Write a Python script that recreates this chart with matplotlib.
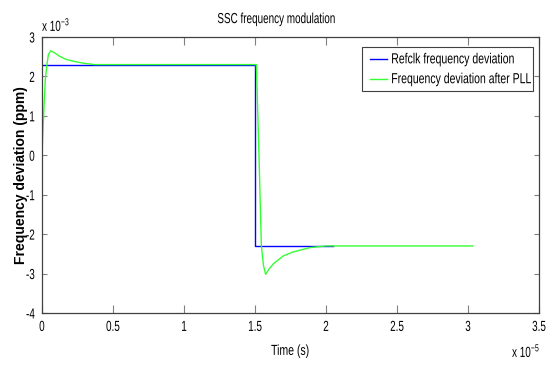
import matplotlib
matplotlib.use("Agg")
import matplotlib.pyplot as plt
from matplotlib.patheffects import AbstractPathEffect
from matplotlib.transforms import Affine2D, Bbox
from matplotlib.patches import Rectangle

plt.rcParams['font.family'] = ['Liberation Sans', 'DejaVu Sans']
plt.rcParams['axes.unicode_minus'] = False

# time in units of 1e-5 s, deviation in units of 1e-3 ppm
ref_t = [0, 1.5, 1.5, 2.05]
ref_dev = [2.3, 2.3, -2.3, -2.3]

pll_t = [0, 0.01, 0.023, 0.035, 0.045, 0.061, 0.08, 0.12, 0.17, 0.24, 0.30, 0.37,
         1.5, 1.51, 1.528, 1.545, 1.56, 1.575, 1.60, 1.63, 1.70, 1.77, 1.89, 2.0, 3.035]
pll_dev = [0.0, 0.9, 1.9, 2.3, 2.55, 2.65, 2.62, 2.52, 2.43, 2.37, 2.33, 2.3,
           2.3, 2.3, 0.0, -2.3, -2.8, -3.02, -2.88, -2.75, -2.55, -2.45, -2.34, -2.3, -2.3]

series_names = ['Refclk frequency deviation', 'Frequency deviation after PLL']
series_colors = ['#0000ff', '#33ff33']

xticks = [0, 0.5, 1, 1.5, 2, 2.5, 3, 3.5]
xticklabels = ['0', '0.5', '1', '1.5', '2', '2.5', '3', '3.5']
yticks = [-4, -3, -2, -1, 0, 1, 2, 3]


class Squeeze(AbstractPathEffect):
    """Narrow glyphs horizontally around a fixed anchor of the text run."""

    def __init__(self, sx=0.7, anchor='center'):
        super().__init__()
        self.sx = sx
        self.anchor = anchor

    def draw_path(self, renderer, gc, tpath, affine, rgbFace=None):
        ext = tpath.get_extents()
        x0 = {'left': ext.x0, 'center': 0.5 * (ext.x0 + ext.x1), 'right': ext.x1}[self.anchor]
        t = Affine2D().translate(-x0, 0).scale(self.sx, 1).translate(x0, 0) + affine
        renderer.draw_path(gc, tpath, t, rgbFace)


def narrow(txt, sx, anchor):
    # condensed look for a horizontal text, with a matching extent
    txt.set_path_effects([Squeeze(sx, anchor)])
    orig = txt.get_window_extent

    def extent(renderer=None, dpi=None):
        bb = orig(renderer, dpi)
        x0 = {'left': bb.x0, 'center': 0.5 * (bb.x0 + bb.x1), 'right': bb.x1}[anchor]
        return Bbox([[x0 + (bb.x0 - x0) * sx, bb.y0], [x0 + (bb.x1 - x0) * sx, bb.y1]])

    txt.get_window_extent = extent
    return txt


fig = plt.figure(figsize=(5.48, 3.68), dpi=100)
ax = fig.add_axes([0.0766, 0.1495, 0.907, 0.750])

ax.plot(ref_t, ref_dev, color=series_colors[0], lw=1.0)
ax.plot(pll_t, pll_dev, color=series_colors[1], lw=1.0)

ax.set_xlim(0, 3.5)
ax.set_ylim(-4, 3)
ax.set_xticks(xticks)
ax.set_xticklabels(xticklabels)
ax.set_yticks(yticks)
ax.tick_params(axis='x', direction='in', top=True, length=6, width=0.8,
               color='#808080', labelsize=10.5, pad=5)
ax.tick_params(axis='y', direction='in', right=True, length=3.5, width=0.8,
               color='#808080', labelsize=10.5, pad=5)
for s in ax.spines.values():
    s.set_color('#404040')
    s.set_linewidth(0.9)
for lbl in ax.get_xticklabels():
    narrow(lbl, 0.68, 'center')
for lbl in ax.get_yticklabels():
    narrow(lbl, 0.68, 'right')

narrow(ax.set_title('SSC frequency modulation', fontsize=10.5, pad=10, x=0.473),
       0.68, 'center')
narrow(ax.set_xlabel('Time (s)', fontsize=10.5), 0.72, 'center')
ax.xaxis.set_label_coords(0.5, -0.112)
ax.set_ylabel('Frequency deviation (ppm)', fontsize=10, fontweight='bold')
ax.yaxis.set_label_coords(-0.028, 0.5)

# exponent labels for both axes
narrow(fig.text(42 / 548, 1 - 31 / 368, r'x 10$^{\mathregular{-3}}$', fontsize=10.5,
                ha='left', va='baseline'), 0.68, 'left')
narrow(fig.text(512 / 548, 1 - 357 / 368, r'x 10$^{\mathregular{-5}}$', fontsize=10.5,
                ha='left', va='baseline'), 0.68, 'left')

# legend box
ax.add_patch(Rectangle((0.644, 0.804), 0.344, 0.160, transform=ax.transAxes,
                       facecolor='white', edgecolor='#404040', lw=0.8, zorder=5))
for i, (name, col) in enumerate(zip(series_names, series_colors)):
    ly = 0.919 - i * 0.072
    ax.plot([0.66, 0.6945], [ly, ly], color=col, lw=1.0, transform=ax.transAxes,
            zorder=6, clip_on=False)
    narrow(ax.text(0.702, ly, name, fontsize=10.5, ha='left', va='center',
                   transform=ax.transAxes, zorder=6), 0.72, 'left')

fig.savefig('out.png', dpi=100)
